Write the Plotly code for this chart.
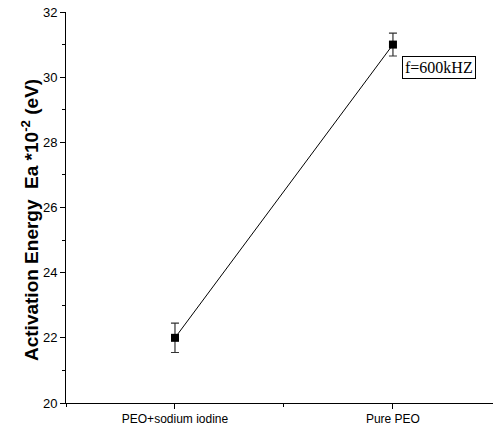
import plotly.graph_objects as go

categories = ["PEO+sodium iodine", "Pure PEO"]
ea_values = [22.0, 31.0]
ea_errors = [0.45, 0.35]
x_pos = [0, 1]

fig = go.Figure()
fig.add_trace(go.Scatter(
    x=x_pos, y=ea_values,
    mode="lines+markers",
    line=dict(color="black", width=1),
    marker=dict(symbol="square", size=8, color="black"),
    error_y=dict(type="data", array=ea_errors, visible=True,
                 color="#333333", thickness=1.2, width=4),
    showlegend=False,
))

fig.add_annotation(
    x=1.04, y=30.3, xref="x", yref="y",
    text="f=600kHZ", showarrow=False,
    xanchor="left", yanchor="middle",
    font=dict(family="Liberation Serif", size=16, color="black"),
    bordercolor="black", borderwidth=1, borderpad=2,
    bgcolor="white",
)

fig.add_annotation(
    x=(30 - 66) / 427, y=(403 - 220) / 391, xref="paper", yref="paper",
    text="<b>Activation Energy&nbsp; Ea *10<sup>-2</sup> (eV)</b>",
    textangle=-90, showarrow=False,
    xanchor="center", yanchor="middle",
    font=dict(family="Liberation Sans", size=19, color="black"),
)

fig.update_layout(
    template="none",
    width=495, height=434,
    margin=dict(l=66, r=2, t=12, b=31),
    plot_bgcolor="white", paper_bgcolor="white",
    font=dict(family="Liberation Sans", color="black"),
    xaxis=dict(
        range=[-0.5, 1.459],
        tickmode="array", tickvals=x_pos, ticktext=categories,
        ticks="outside", ticklen=5, tickcolor="black", tickwidth=1,
        minor=dict(tickmode="linear", tick0=0.5, dtick=1, ticks="outside",
                   ticklen=3, tickcolor="black", showgrid=False),
        showline=True, linecolor="black", linewidth=1,
        showgrid=False, zeroline=False, mirror=False,
        tickfont=dict(size=12),
    ),
    yaxis=dict(
        range=[20, 32],
        tickmode="linear", tick0=20, dtick=2,
        ticks="outside", ticklen=5, tickcolor="black", tickwidth=1,
        minor=dict(dtick=1, ticks="outside", ticklen=3, tickcolor="black",
                   showgrid=False),
        showline=True, linecolor="black", linewidth=1,
        showgrid=False, zeroline=False, mirror=False,
        tickfont=dict(size=13),
    ),
)

fig.write_html("out.html")
